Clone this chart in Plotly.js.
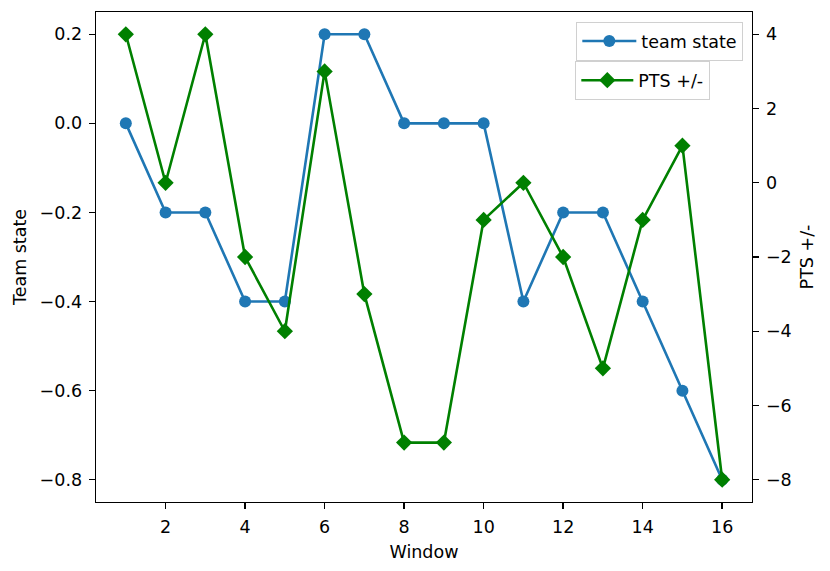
<!DOCTYPE html>
<html>
<head>
<meta charset="utf-8">
<script src="https://cdn.plot.ly/plotly-3.0.1.min.js"></script>
<style>html,body{margin:0;padding:0;background:#fff;}#chart{width:830px;height:571px;}</style>
</head>
<body>
<div id="chart"></div>
<script>
var windows = [1,2,3,4,5,6,7,8,9,10,11,12,13,14,15,16];
var teamState = [0, -0.2, -0.2, -0.4, -0.4, 0.2, 0.2, 0, 0, 0, -0.4, -0.2, -0.2, -0.4, -0.6, -0.8];
var ptsDiff = [4, 0, 4, -2, -4, 3, -3, -7, -7, -1, 0, -2, -5, -1, 1, -8];
var xTicks = [2,4,6,8,10,12,14,16];
var leftTicks = [-0.8,-0.6,-0.4,-0.2,0.0,0.2];
var rightTicks = [-8,-6,-4,-2,0,2,4];

var font = 'DejaVu Sans, sans-serif';
var fs = 17.5;
var traces = [
  {x: windows, y: teamState, name: 'team state', type: 'scatter', mode: 'lines+markers',
   line: {color: '#1f77b4', width: 2.6}, marker: {symbol: 'circle', size: 12, color: '#1f77b4'},
   xaxis: 'x', yaxis: 'y', legend: 'legend'},
  {x: windows, y: ptsDiff, name: 'PTS +/-', type: 'scatter', mode: 'lines+markers',
   line: {color: '#008000', width: 2.6}, marker: {symbol: 'diamond', size: 12.5, color: '#008000'},
   xaxis: 'x', yaxis: 'y2', legend: 'legend2'}
];
var axCommon = {showline: true, linecolor: '#000', linewidth: 1.4, ticks: 'outside', ticklen: 6,
  tickwidth: 1.4, tickcolor: '#000', showgrid: false, zeroline: false, ticklabelstandoff: 3,
  tickfont: {family: font, size: fs, color: '#000'}};
var layout = {
  width: 830, height: 571,
  margin: {l: 96, r: 78, t: 12, b: 69},
  paper_bgcolor: '#fff', plot_bgcolor: '#fff',
  font: {family: font, size: fs, color: '#000'},
  xaxis: Object.assign({}, axCommon, {range: [0.25, 16.75], tickvals: xTicks, mirror: true,
    title: {text: 'Window', font: {family: font, size: fs}, standoff: 9}}),
  yaxis: Object.assign({}, axCommon, {range: [-0.85, 0.25], tickvals: leftTicks, tickformat: '.1f',
    title: {text: 'Team state', font: {family: font, size: fs}, standoff: 8}}),
  yaxis2: Object.assign({}, axCommon, {range: [-8.6, 4.6], tickvals: rightTicks, overlaying: 'y', side: 'right',
    title: {text: 'PTS +/-', font: {family: font, size: fs}, standoff: 10}}),
  showlegend: true,
  legend: {x: 0.9863, xanchor: 'right', y: 0.98, yanchor: 'top', bgcolor: '#fff', itemwidth: 54,
    bordercolor: '#d0d0d0', borderwidth: 1.3, font: {family: font, size: fs}},
  legend2: {x: 0.936, xanchor: 'right', y: 0.9, yanchor: 'top', bgcolor: '#fff', itemwidth: 52,
    bordercolor: '#d0d0d0', borderwidth: 1.3, font: {family: font, size: fs}}
};
Plotly.newPlot('chart', traces, layout, {displayModeBar: false, staticPlot: true});
</script>
</body>
</html>
